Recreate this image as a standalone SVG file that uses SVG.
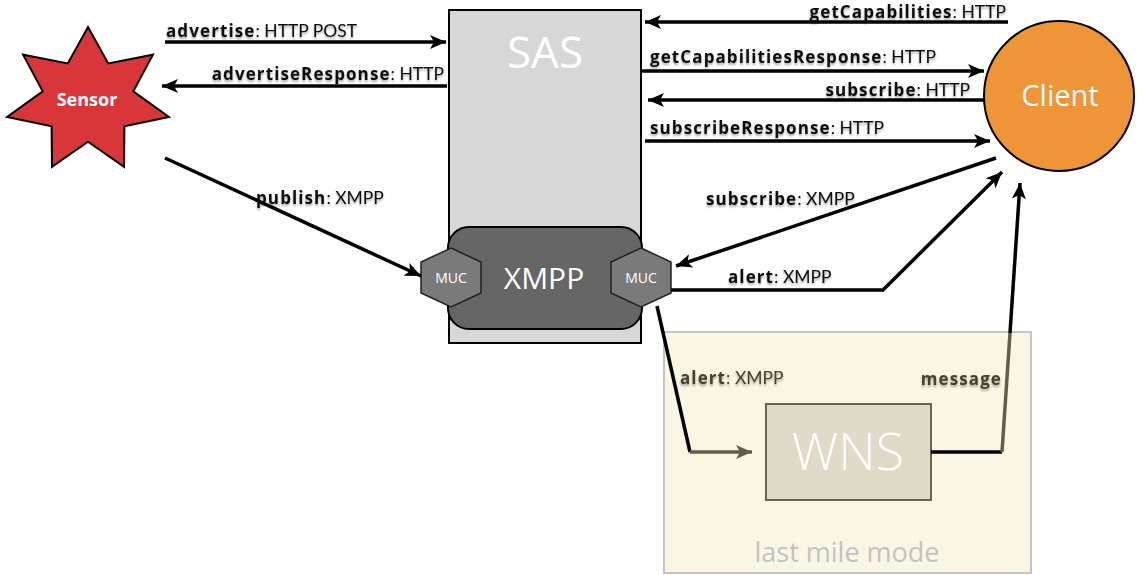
<svg xmlns="http://www.w3.org/2000/svg" width="1142" height="575" viewBox="0 0 1142 575">
  <defs>
    <marker id="arrow" markerUnits="userSpaceOnUse" markerWidth="18" markerHeight="16" refX="16" refY="8" orient="auto">
      <path d="M0,1 L16,8 L0,15 L4,8 Z" fill="#000"/>
    </marker>
    <marker id="arrowOlive" markerUnits="userSpaceOnUse" markerWidth="18" markerHeight="16" refX="16" refY="8" orient="auto">
      <path d="M0,1 L16,8 L0,15 L4,8 Z" fill="#625d45"/>
    </marker>
    <filter id="soft" x="-10%" y="-30%" width="120%" height="160%">
      <feGaussianBlur in="SourceAlpha" stdDeviation="1.2"/>
      <feOffset dx="0" dy="1.5" result="b"/>
      <feComponentTransfer><feFuncA type="linear" slope="0.35"/></feComponentTransfer>
      <feMerge><feMergeNode/><feMergeNode in="SourceGraphic"/></feMerge>
    </filter>
  </defs>
  <style>
    .lbl { font-family: Lato, "Open Sans", sans-serif; font-size: 17.5px; fill: #111; filter: url(#soft); }
    .lbl .b { font-family: "Open Sans", Lato, sans-serif; font-weight: bold; font-size: 17px; letter-spacing: 1.1px; }
    .in { fill: #47432f; }
    .conn { fill: none; stroke: #000; stroke-width: 3.5; stroke-linejoin: miter; }
    .olive { stroke: #625d45; }
    .big { font-family: "Open Sans", Lato, sans-serif; fill: #fff; text-anchor: middle; }
    .muc { fill: #7a7a7a; stroke: #222; stroke-width: 1.5; }
  </style>

  <rect width="1142" height="575" fill="#fff"/>

  <!-- last mile area -->
  <g id="lastmile">
    <rect x="664" y="332" width="367" height="241" fill="#faf6e4" stroke="#c4c4c4" stroke-width="2"/>
    <text x="847" y="562" font-family="'Open Sans', Lato, sans-serif" font-size="27" fill="#c3c3c3" text-anchor="middle">last mile mode</text>
  </g>

  <!-- SAS server with embedded XMPP component -->
  <g id="sas">
    <rect x="449" y="10" width="192" height="333" fill="#d8d7d8" stroke="#000" stroke-width="2"/>
    <text class="big" x="545" y="68" font-size="44">SAS</text>
  </g>
  <g id="xmpp">
    <rect x="448" y="227" width="194" height="102" rx="21" fill="#666" stroke="#000" stroke-width="2"/>
    <text class="big" x="544" y="289" font-size="30">XMPP</text>
  </g>
  <g id="muc-left">
    <polygon class="muc" points="451,248 481,262 481,293 451,307 421,293 421,262"/>
    <text class="big" x="451" y="283" font-size="14">MUC</text>
  </g>
  <g id="muc-right">
    <polygon class="muc" points="641,248 671,262 671,293 641,307 611,293 611,262"/>
    <text class="big" x="641" y="283" font-size="14">MUC</text>
  </g>

  <!-- sensor -->
  <g id="sensor">
    <polygon points="88,27 108.2,63.5 152.9,54.7 133.3,91.4 168.9,117 124.4,126.3 124,166.9 88,141.8 52,166.9 51.6,126.3 7.1,117 42.7,91.4 23.1,54.7 67.8,63.5" fill="#d9363a" stroke="#000" stroke-width="2" stroke-linejoin="miter"/>
    <text x="87" y="106" font-family="'Open Sans', Lato, sans-serif" font-weight="bold" font-size="18" fill="#fff" text-anchor="middle">Sensor</text>
  </g>

  <!-- client -->
  <g id="client">
    <circle cx="1059" cy="96" r="75" fill="#ee9538" stroke="#000" stroke-width="2"/>
    <text class="big" x="1060" y="106" font-size="29">Client</text>
  </g>

  <!-- WNS -->
  <g id="wns">
    <rect x="766" y="404" width="165" height="96" fill="#e0dac8" stroke="#6b6548" stroke-width="2"/>
    <text class="big" x="848" y="470" font-size="52" font-weight="300" fill="#faf8f0">WNS</text>
  </g>

  <!-- connectors -->
  <g id="connectors">
    <line class="conn" x1="165" y1="42" x2="446" y2="42" marker-end="url(#arrow)"/>
    <line class="conn" x1="447" y1="86" x2="162" y2="86" marker-end="url(#arrow)"/>
    <line class="conn" x1="1008" y1="22" x2="645" y2="22" marker-end="url(#arrow)"/>
    <line class="conn" x1="642" y1="71" x2="984" y2="71" marker-end="url(#arrow)"/>
    <line class="conn" x1="985" y1="100" x2="648" y2="100" marker-end="url(#arrow)"/>
    <line class="conn" x1="645" y1="141" x2="990" y2="141" marker-end="url(#arrow)"/>
    <line class="conn" x1="165" y1="158" x2="421" y2="276" marker-end="url(#arrow)"/>
    <line class="conn" x1="996" y1="158" x2="676" y2="266" marker-end="url(#arrow)"/>
    <polyline class="conn" points="671,290 883,290 1002,172" marker-end="url(#arrow)"/>
    <polyline class="conn" points="657,306 690,452"/>
    <line class="conn olive" x1="690" y1="452" x2="752" y2="452" marker-end="url(#arrowOlive)"/>
    <line class="conn" x1="931" y1="452" x2="1002" y2="452"/>
    <line class="conn olive" x1="1002" y1="452" x2="1010" y2="333" stroke-width="3"/>
    <line class="conn" x1="1010" y1="333" x2="1020" y2="183" stroke-width="3" marker-end="url(#arrow)"/>
  </g>

  <!-- connector labels -->
  <g id="labels">
    <text class="lbl" x="166" y="37"><tspan class="b">advertise</tspan>: HTTP POST</text>
    <text class="lbl" x="444" y="80" text-anchor="end"><tspan class="b">advertiseResponse</tspan>: HTTP</text>
    <text class="lbl" x="1006" y="18" text-anchor="end"><tspan class="b">getCapabilities</tspan>: HTTP</text>
    <text class="lbl" x="650" y="63"><tspan class="b">getCapabilitiesResponse</tspan>: HTTP</text>
    <text class="lbl" x="970" y="96" text-anchor="end"><tspan class="b">subscribe</tspan>: HTTP</text>
    <text class="lbl" x="650" y="134"><tspan class="b">subscribeResponse</tspan>: HTTP</text>
    <text class="lbl" x="256" y="204"><tspan class="b">publish</tspan>: XMPP</text>
    <text class="lbl" x="706" y="205"><tspan class="b">subscribe</tspan>: XMPP</text>
    <text class="lbl" x="728" y="283"><tspan class="b">alert</tspan>: XMPP</text>
    <text class="lbl in" x="680" y="384"><tspan class="b">alert</tspan>: XMPP</text>
    <text class="lbl in" x="1002" y="385" text-anchor="end"><tspan class="b">message</tspan></text>
  </g>
</svg>
